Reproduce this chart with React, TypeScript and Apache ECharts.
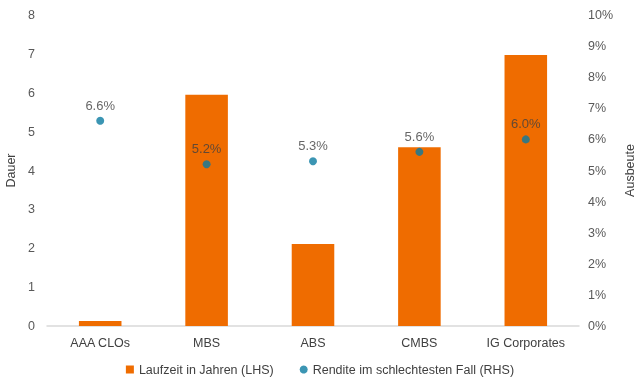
import React, { useEffect, useRef } from "react";
import * as echarts from "echarts";

const categories = ["AAA CLOs", "MBS", "ABS", "CMBS", "IG Corporates"];
const durationYears = [0.13, 5.95, 2.11, 4.6, 6.97];
const yieldToWorst = [6.6, 5.2, 5.3, 5.6, 6.0];
const leftTicks = [0, 1, 2, 3, 4, 5, 6, 7, 8];
const rightTicks = [0, 1, 2, 3, 4, 5, 6, 7, 8, 9, 10];

export default function App() {
  const ref = useRef<HTMLDivElement>(null);
  useEffect(() => {
    if (!ref.current) return;
    const chart = echarts.init(ref.current, undefined, { renderer: "svg" });
    const font = "Liberation Sans, Arial, sans-serif";
    chart.setOption({
      animation: false,
      textStyle: { fontFamily: font },
      grid: { left: 47, right: 61, top: 15, bottom: 65, containLabel: false, outerBoundsMode: "none" },
      legend: {
        bottom: 10,
        left: "center",
        itemGap: 26,
        itemWidth: 8,
        itemHeight: 8,
        itemStyle: {},
        textStyle: { color: "#404040", fontSize: 12.5, fontFamily: font },
        data: [
          { name: "Laufzeit in Jahren (LHS)", icon: "rect" },
          { name: "Rendite im schlechtesten Fall (RHS)", icon: "circle" },
        ],
      },
      xAxis: {
        type: "category",
        data: categories,
        axisLine: { lineStyle: { color: "#d9d9d9", width: 1.5 } },
        axisTick: { show: false },
        axisLabel: { color: "#404040", fontSize: 12.5, margin: 10 },
      },
      yAxis: [
        {
          type: "value",
          min: leftTicks[0],
          max: leftTicks[leftTicks.length - 1],
          interval: 1,
          name: "Dauer",
          nameLocation: "middle",
          nameGap: 29,
          nameTextStyle: { color: "#404040", fontSize: 12.5 },
          splitLine: { show: false },
          axisLine: { show: false },
          axisLabel: { color: "#595959", fontSize: 12.5, margin: 12 },
        },
        {
          type: "value",
          min: rightTicks[0],
          max: rightTicks[rightTicks.length - 1],
          interval: 1,
          name: "Ausbeute",
          nameLocation: "middle",
          nameGap: 43,
          nameRotate: 90,
          nameTextStyle: { color: "#404040", fontSize: 12.5 },
          splitLine: { show: false },
          axisLine: { show: false },
          axisLabel: { color: "#595959", fontSize: 12.5, margin: 9, formatter: "{value}%" },
        },
      ],
      series: [
        {
          name: "Laufzeit in Jahren (LHS)",
          type: "bar",
          data: durationYears,
          barWidth: "40%",
          itemStyle: { color: "#EF6C00" },
          yAxisIndex: 0,
        },
        {
          name: "Rendite im schlechtesten Fall (RHS)",
          type: "scatter",
          data: yieldToWorst,
          yAxisIndex: 1,
          symbolSize: 8,
          itemStyle: { color: "#0A7AA0" },
          label: {
            show: true,
            position: "top",
            distance: 5,
            color: "#404040",
            fontSize: 13,
            formatter: (p: any) => p.value.toFixed(1) + "%",
          },
        },
      ],
    });
    return () => chart.dispose();
  }, []);
  return (
    <div
      ref={ref}
      style={{ position: "fixed", left: 0, top: 0, width: 640, height: 391 }}
    />
  );
}
